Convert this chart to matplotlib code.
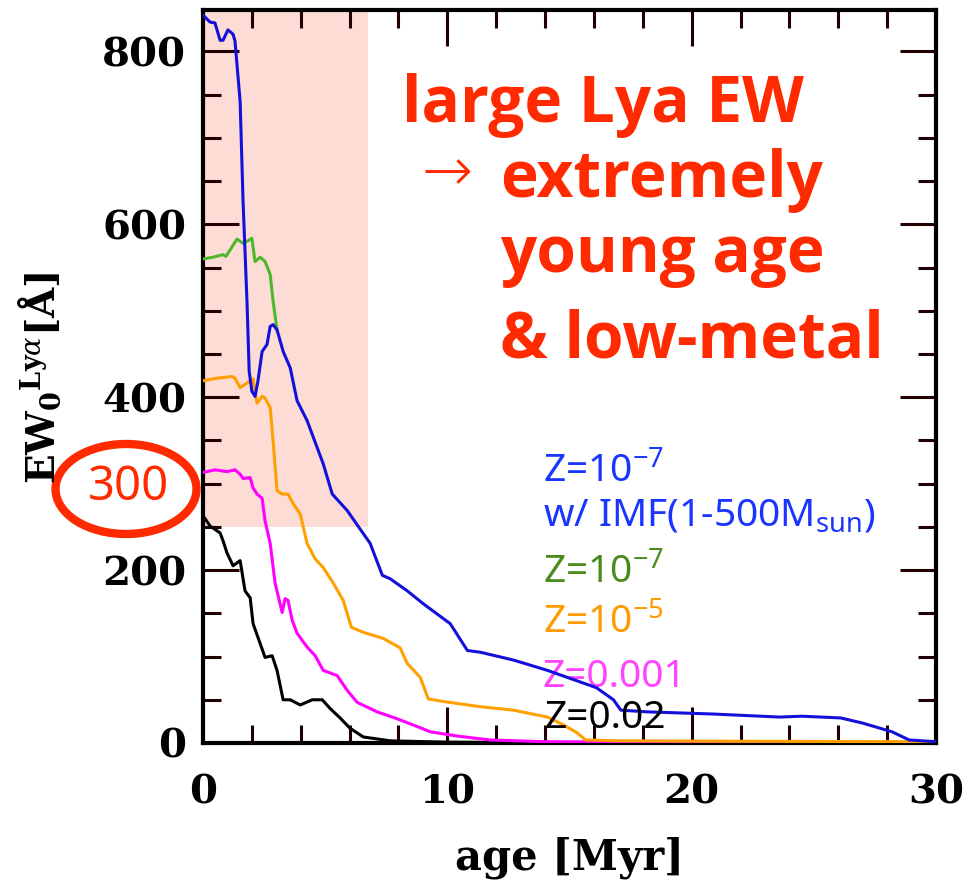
import matplotlib
matplotlib.use('Agg')
import matplotlib.pyplot as plt
from matplotlib.patches import Ellipse, Rectangle
from matplotlib.ticker import MultipleLocator

plt.rcParams['mathtext.fontset'] = 'dejavuserif'

# Datos: edad [Myr] y EW de Lya [A]
blue_age = [0, 0.29, 0.49, 0.70, 0.82, 1.02, 1.23, 1.31, 1.52, 1.64, 1.80, 1.89, 2.00, 2.13, 2.25,
            2.42, 2.62, 2.75, 2.87, 3.03, 3.28, 3.57, 3.85, 4.26, 4.92, 5.29, 5.90, 6.84, 7.34, 7.66,
            8.36, 9.02, 10.12, 10.82, 11.35, 12.7, 14.1, 15.2, 16.1, 16.8, 17.1, 18.2, 20.9, 23.6,
            24.5, 26.1, 27.0, 28.2, 28.9, 30.0]
blue_ew = [842, 834, 833, 813, 813, 825, 820, 812, 742, 626, 511, 430, 407, 401, 419,
           453, 461, 482, 484, 478, 453, 434, 396, 373, 323, 288, 269, 231, 194, 190,
           176, 161, 138, 107, 105, 96, 84, 73, 64, 50, 38, 36, 33.5, 30,
           31, 29, 23, 13, 3.5, 1.5]

green_age = [0, 0.41, 0.82, 0.94, 1.19, 1.39, 1.64, 1.84, 2.00, 2.13, 2.34, 2.54, 2.75, 2.87, 3.03]
green_ew = [560, 562, 565, 563, 574, 583, 578, 581, 584, 557, 562, 557, 542, 511, 478]

orange_age = [0, 0.57, 1.19, 1.31, 1.52, 1.93, 2.05, 2.21, 2.42, 2.54, 2.75, 2.87, 3.03, 3.24, 3.48,
              3.69, 3.98, 4.26, 4.59, 4.92, 5.33, 5.74, 6.07, 6.56, 7.38, 8.07, 8.36, 8.89, 9.22,
              9.84, 11.35, 12.7, 14.1, 14.75, 15.3, 15.66, 17.0, 22.0, 30.0]
orange_ew = [419, 422, 424, 422, 411, 419, 421, 393, 401, 399, 388, 349, 292, 288, 288,
             277, 265, 231, 213, 203, 185, 165, 134, 128, 121, 110, 92, 76, 51,
             48, 42, 38, 30, 21, 12, 3.5, 2.5, 2, 1.5]

magenta_age = [0, 0.49, 0.98, 1.31, 1.52, 1.64, 1.93, 2.05, 2.21, 2.42, 2.54, 2.75, 2.95, 3.24, 3.36,
               3.48, 3.65, 3.85, 4.26, 4.59, 4.92, 5.49, 5.90, 6.31, 7.13, 7.95, 8.77, 9.30, 10.41,
               11.76, 14.0, 20.0, 30.0]
magenta_ew = [313, 316, 314, 316, 311, 306, 307, 295, 288, 283, 257, 231, 185, 151, 167,
              165, 142, 127, 111, 101, 84, 78, 61, 47, 36, 28, 19, 13, 8,
              3.5, 1.5, 0.5, 0.2]

black_age = [0, 0.29, 0.70, 0.82, 0.98, 1.23, 1.52, 1.72, 1.93, 2.05, 2.34, 2.54, 2.83, 3.03, 3.28,
             3.57, 3.98, 4.47, 4.88, 5.20, 5.61, 6.02, 6.56, 7.66, 10.0, 15.0, 30.0]
black_ew = [263, 251, 243, 234, 220, 205, 211, 176, 168, 138, 115, 99, 101, 84, 50,
            50, 44, 50, 50, 40, 29, 17, 7, 2.5, 1, 0.3, 0]

# zona sombreada: edad < 6.75 Myr y EW > 250
zona_edad = 6.75
zona_ew = 250

rojo = '#ff2a00'

fig = plt.figure(figsize=(9.68, 8.82), dpi=100)
ax = fig.add_axes([203 / 968, 1 - 743 / 882, 733 / 968, 733 / 882])

ax.add_patch(Rectangle((0, zona_ew), zona_edad, 1000, facecolor='#fddcd6', edgecolor='none', zorder=0))

ax.plot(black_age, black_ew, color='black', lw=2.2, zorder=3)
ax.plot(magenta_age, magenta_ew, color='#ff00ff', lw=2.2, zorder=3)
ax.plot(orange_age, orange_ew, color='#ffa000', lw=2.2, zorder=3)
ax.plot(green_age, green_ew, color='#4db82a', lw=2.2, zorder=3)
ax.plot(blue_age, blue_ew, color='#1410dc', lw=2.2, zorder=4)

ax.set_xlim(0, 30)
ax.set_ylim(0, 848)
ax.xaxis.set_major_locator(MultipleLocator(10))
ax.xaxis.set_minor_locator(MultipleLocator(2))
ax.yaxis.set_major_locator(MultipleLocator(200))
ax.yaxis.set_minor_locator(MultipleLocator(50))
ax.tick_params(which='both', direction='in', top=True, right=True, width=2.2, color='#200000')
ax.tick_params(which='major', length=26)
ax.tick_params(which='minor', length=13)
ax.tick_params(axis='x', which='major', pad=22)
ax.tick_params(axis='y', which='major', pad=12)
for s in ax.spines.values():
    s.set_linewidth(3)

for lab in ax.get_xticklabels() + ax.get_yticklabels():
    lab.set_fontfamily('DejaVu Serif')
    lab.set_fontweight('bold')
    lab.set_fontsize(29)

ax.set_xlabel('age [Myr]', family='DejaVu Serif', weight='bold', fontsize=30, labelpad=18)
fig.text(40 / 968, 1 - 378 / 882, r'EW$_{\mathregular{0}}$$^{\mathregular{Ly}\alpha}$[Å]',
         rotation=90, ha='center', va='center', family='DejaVu Serif', weight='bold', fontsize=28)

# texto de anotacion
tf = dict(transform=ax.transAxes, color=rojo, family='Open Sans', weight='bold', fontsize=46, va='baseline')
ax.text(0.2715, 0.847, 'large Lya EW', **tf)
ax.text(0.298, 0.775, '→', transform=ax.transAxes, color=rojo, family='DejaVu Sans',
        weight='light', fontsize=44, va='center')
ax.text(0.405, 0.745, 'extremely', **tf)
ax.text(0.405, 0.6426, 'young age', **tf)
ax.text(0.405, 0.5266, '& low-metal', **tf)

# etiquetas de cada modelo
lf = dict(transform=ax.transAxes, family='Noto Sans', fontsize=28, va='baseline')
ax.text(0.4638, 0.356, r'Z=10$^{\mathregular{-7}}$', color='#1a35ff', **lf)
ax.text(0.4638, 0.297, r'w/ IMF(1-500M$_{\mathregular{sun}}$)', color='#1a35ff', **lf)
ax.text(0.4638, 0.218, r'Z=10$^{\mathregular{-7}}$', color='#4a8c1c', **lf)
ax.text(0.4638, 0.150, r'Z=10$^{\mathregular{-5}}$', color='#ff9a00', **lf)
ax.text(0.4638, 0.0764, 'Z=0.001', color='#ff44ff', zorder=2, **lf)
ax.text(0.466, 0.0205, 'Z=0.02', color='black', zorder=5, **lf)

# elipse roja con el valor 300
fig.patches.append(Ellipse((126 / 968, 1 - 489 / 882), 141 / 968, 90 / 882, transform=fig.transFigure,
                           facecolor='none', edgecolor=rojo, lw=6))
fig.text(128 / 968, 1 - 488 / 882, '300', color=rojo, family='Noto Sans', fontsize=34,
         ha='center', va='center')

fig.savefig('out.png', dpi=100)
